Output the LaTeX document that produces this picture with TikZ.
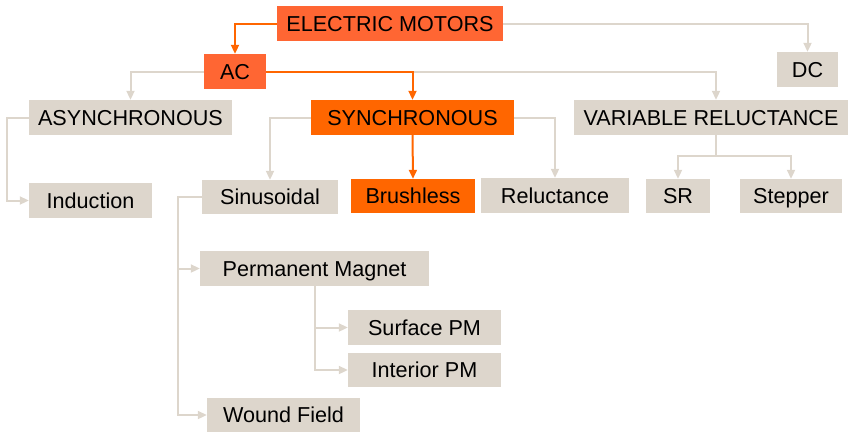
\documentclass[tikz,border=0pt]{standalone}
\usepackage{fontspec}
\setmainfont{Liberation Sans}
\usetikzlibrary{arrows.meta}
\definecolor{orA}{RGB}{255,102,51}
\definecolor{orB}{RGB}{255,102,0}
\definecolor{beige}{RGB}{221,214,204}
\definecolor{gline}{RGB}{221,214,204}
\tikzset{
  box/.style={inner sep=0pt, minimum height=35pt, text height=15.4pt, text depth=0pt, font=\fontsize{21.6}{24}\selectfont, text=black},
  gbox/.style={box, fill=beige},
  obox/.style={box, fill=orA},
  obox2/.style={box, fill=orB},
  gconn/.style={draw=gline, line width=2pt},
  garrow/.style={gconn, -{Triangle[length=9pt,width=8pt]}},
  oarrow/.style={draw=orB, line width=2pt, -{Triangle[length=9pt,width=8pt]}},
}
\begin{document}
\begin{tikzpicture}[x=1pt,y=-1pt]
\useasboundingbox (0,0) rectangle (848,432);
\node[obox, minimum width=226pt] (em) at (390,23.5) {ELECTRIC MOTORS};
\node[obox, minimum width=62pt] (ac) at (235,71.5) {AC};
\node[gbox, minimum width=61pt] (dc) at (807.5,69.5) {DC};
\node[gbox, minimum width=203pt] (async) at (130.5,117.5) {ASYNCHRONOUS};
\node[obox2, minimum width=203pt] (sync) at (412.5,117.5) {SYNCHRONOUS};
\node[gbox, minimum width=274pt] (vr) at (711,117.5) {VARIABLE RELUCTANCE};
\node[gbox, minimum width=123pt] (ind) at (90.5,200.5) {Induction};
\node[gbox, minimum width=136pt, minimum height=34pt] (sin) at (270,197) {Sinusoidal};
\node[obox2, minimum width=124pt, minimum height=34pt] (brush) at (413,196) {Brushless};
\node[gbox, minimum width=148pt] (rel) at (555,195.5) {Reluctance};
\node[gbox, minimum width=64pt, minimum height=34pt] (sr) at (678,196) {SR};
\node[gbox, minimum width=102pt, minimum height=34pt] (stp) at (791,196) {Stepper};
\node[gbox, minimum width=229pt] (pm) at (314.5,268.5) {Permanent Magnet};
\node[gbox, minimum width=153pt] (spm) at (424.5,327.5) {Surface PM};
\node[gbox, minimum width=153pt, minimum height=34pt] (ipm) at (424.5,370) {Interior PM};
\node[gbox, minimum width=153pt, minimum height=34pt] (wf) at (283.5,415) {Wound Field};
% connectors
\draw[oarrow] (em.west) -| (ac.north);
\draw[garrow] (em.east) -| (dc.north);
\draw[garrow] (ac.west) -| (async.north);
\draw[garrow] (ac.east) -| ([xshift=5pt]vr.north);
\draw[oarrow] (ac.east) -| (sync.north);
\draw[garrow] (async.west) -- ++(-22,0) |- (ind.west);
\draw[garrow] (sync.west) -| (sin.north);
\draw[oarrow] (sync.south) -- (brush.north);
\draw[garrow] (sync.east) -| (rel.north);
\draw[gconn] ([xshift=5pt]vr.south) -- ++(0,21) coordinate (vrj);
\draw[garrow] (vrj) -| (sr.north);
\draw[garrow] (vrj) -| (stp.north);
\draw[garrow] (sin.west) -- ++(-24,0) coordinate (sj) |- (pm.west);
\draw[garrow] (sj) |- (wf.west);
\draw[garrow] (pm.south) |- (spm.west);
\draw[garrow] (pm.south) |- (ipm.west);
\end{tikzpicture}
\end{document}
